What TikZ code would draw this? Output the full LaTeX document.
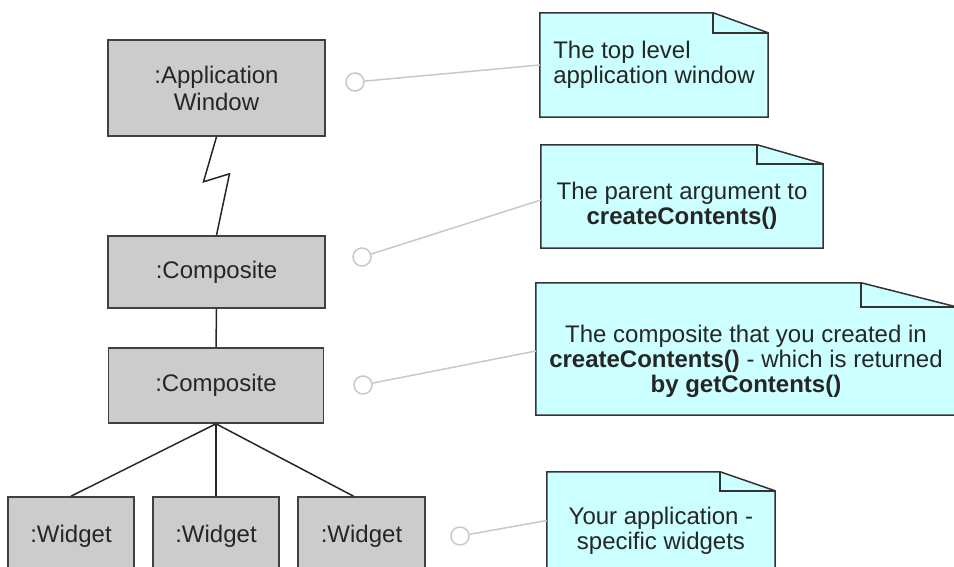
\documentclass[tikz,border=0pt]{standalone}
\usepackage{fontspec}
\setmainfont{Liberation Sans}
\usepackage{tikz}
\usetikzlibrary{positioning,backgrounds}
\definecolor{boxgray}{HTML}{CCCCCC}
\definecolor{notecyan}{HTML}{CCFFFF}
\definecolor{pingray}{HTML}{C8C8C8}

\begin{document}
\begin{tikzpicture}[
	x=1pt, y=-1pt,
	obj/.style={
		draw=black!75,
		fill=boxgray,
		line width=1.6pt,
		align=center,
		text=black!85,
		font=\fontsize{24}{27}\selectfont
	},
	note/.style={
		align=center,
		text=black!85,
		inner sep=0pt,
		font=\fontsize{24}{25}\selectfont
	},
	notebox/.style={
		draw=black!80,
		fill=notecyan,
		line width=1.5pt
	},
	link/.style={
		draw=black!85,
		line width=1.5pt
	},
	pin/.style={
		draw=pingray,
		fill=white,
		circle,
		line width=1.5pt,
		minimum size=18pt,
		inner sep=0pt
	},
	pinline/.style={
		draw=pingray,
		line width=1.5pt
	}
	]
	\useasboundingbox (0,0) rectangle (954,567);
	
	\node[obj, minimum width=217pt, minimum height=96pt] at (216.5,88) 
	(appwin) {:Application\\Window};
	\node[obj, minimum width=217pt, minimum height=72pt] at (216.5,272) 
	(comp1) {:Composite};
	\node[obj, minimum width=215pt, minimum height=75pt] at (216,385.5) 
	(comp2) {:Composite};
	
	\node[obj, minimum width=126pt, minimum height=78pt] at (71,536) 
	(w1) {:Widget};
	\node[obj, minimum width=126pt, minimum height=78pt] at (216,536) 
	(w2) {:Widget};
	\node[obj, minimum width=127pt, minimum height=78pt] at (361.5,536) 
	(w3) {:Widget};
	
	\node[note, align=left, minimum width=228pt, minimum height=104pt] at (654,65) 
	(n1) {The top level\\application window};
	\node[note, minimum width=282pt, minimum height=84pt] at (682,206) 
	(n2) {The parent argument to\\\textbf{createContents()}};
	\node[note, minimum width=420pt, minimum height=108pt] at (746,361) 
	(n3) {The composite that you created in\\\textbf{createContents()} - which is returned\\\textbf{by getContents()}};
	\node[note, minimum width=228pt, minimum height=79pt] at (661,530.5) 
	(n4) {Your application -\\specific widgets};
	
	\begin{scope}[on background layer]
	\filldraw[notebox] (n1.south west) -- (n1.north west) -- ([xshift=-55pt]n1.north east) -- ([yshift=-20pt]n1.north east) -- (n1.south east) -- cycle;
	\draw[notebox, fill=none] ([xshift=-55pt]n1.north east) |- ([yshift=-20pt]n1.north east);
	\filldraw[notebox] (n2.south west) -- ([yshift=19pt]n2.north west) -- ([xshift=-66pt,yshift=19pt]n2.north east) -- (n2.north east) -- (n2.south east) -- cycle;
	\draw[notebox, fill=none] ([xshift=-66pt,yshift=19pt]n2.north east) |- (n2.north east);
	\filldraw[notebox] (n3.south west) -- ([yshift=24pt]n3.north west) -- ([xshift=-95pt,yshift=24pt]n3.north east) -- (n3.north east) -- (n3.south east) -- cycle;
	\draw[notebox, fill=none] ([xshift=-95pt,yshift=24pt]n3.north east) |- (n3.north east);
	\filldraw[notebox] (n4.south west) -- ([yshift=19pt]n4.north west) -- ([xshift=-55pt,yshift=19pt]n4.north east) -- (n4.north east) -- (n4.south east) -- cycle;
	\draw[notebox, fill=none] ([xshift=-55pt,yshift=19pt]n4.north east) |- (n4.north east);
	\end{scope}
	
	\node[pin] at (355,82) (c1) {};
	\node[pin] at (362,257) (c2) {};
	\node[pin] at (363,385) (c3) {};
	\node[pin] at (460,536) (c4) {};
	
	\draw[pinline] (c1) -- (n1.west);
	\draw[pinline] (c2) -- ([yshift=6pt]n2.west);
	\draw[pinline] (c3) -- ([yshift=10pt]n3.west);
	\draw[pinline] (c4) -- ([yshift=10pt]n4.west);
	
	\draw[link] (appwin.south) -- ++(-13,45) -- ++(26,-8) -- (comp1.north);
	\draw[link] (comp1) -- (comp2);
	\draw[link] (comp2.south) -- (w1.north);
	\draw[link] (comp2.south) -- (w2.north);
	\draw[link] (comp2.south) -- ([xshift=-8pt]w3.north);
	
\end{tikzpicture}
\end{document}
